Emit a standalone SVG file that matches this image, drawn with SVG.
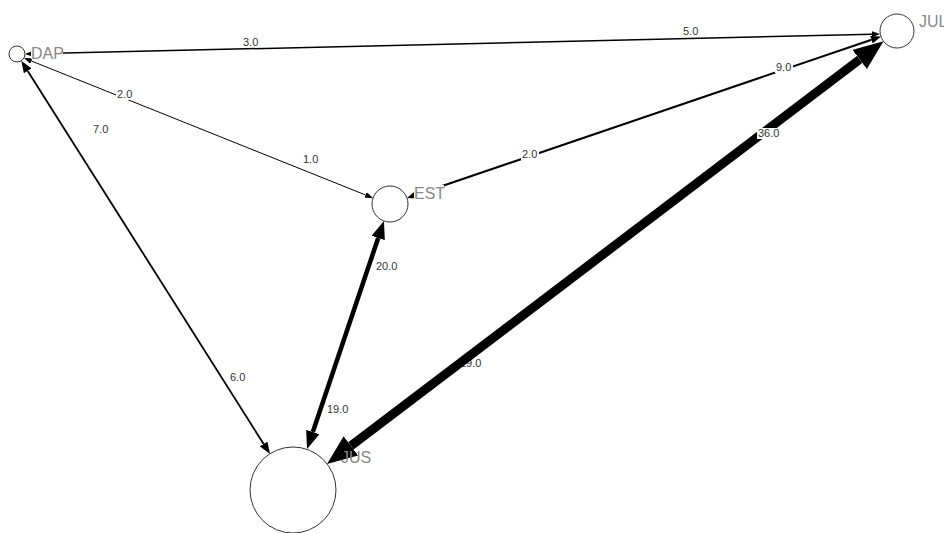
<svg xmlns="http://www.w3.org/2000/svg" width="944" height="533" viewBox="0 0 944 533">
<style>
.node circle{fill:#fff;stroke:#333;stroke-width:1}
.nlabel{font-family:"Liberation Sans",Arial,sans-serif;font-size:16px;fill:#888}
.elabel{font-family:"Liberation Sans",Arial,sans-serif;font-size:11px;fill:#333}
.edge{stroke:#000;fill:none}
.bg{fill:#fff}
</style>
<defs>
<marker id="aS" markerUnits="userSpaceOnUse" viewBox="0 0 8 6" markerWidth="8" markerHeight="6" refX="0" refY="3" orient="auto-start-reverse"><path d="M0,0 L8,3 L0,6 z" fill="#000"/></marker>
<marker id="aM" markerUnits="userSpaceOnUse" viewBox="0 0 12 9" markerWidth="12" markerHeight="9" refX="0" refY="4.5" orient="auto-start-reverse"><path d="M0,0 L12,4.5 L0,9 z" fill="#000"/></marker>
<marker id="aM2" markerUnits="userSpaceOnUse" viewBox="0 0 10 8" markerWidth="10" markerHeight="8" refX="0" refY="4" orient="auto-start-reverse"><path d="M0,0 L10,4 L0,8 z" fill="#000"/></marker>
<marker id="aL" markerUnits="userSpaceOnUse" viewBox="0 0 18 14" markerWidth="18" markerHeight="14" refX="0" refY="7" orient="auto-start-reverse"><path d="M0,0 L18,7 L0,14 z" fill="#000"/></marker>
<marker id="aXL" markerUnits="userSpaceOnUse" viewBox="0 0 30 24" markerWidth="30" markerHeight="24" refX="0" refY="12" orient="auto-start-reverse"><path d="M0,0 L30,12 L0,24 z" fill="#000"/></marker>
</defs>
<g id="connectors">
<text class="elabel" x="460" y="367">29.0</text>
<line class="edge" x1="33" y1="53.8" x2="872" y2="34.2" stroke-width="1.5" marker-start="url(#aS)" marker-end="url(#aS)"/>
<line class="edge" x1="31.4" y1="61" x2="365.6" y2="195" stroke-width="1" marker-start="url(#aS)" marker-end="url(#aS)"/>
<line class="edge" x1="27.7" y1="70.9" x2="263.6" y2="443.9" stroke-width="1.8" marker-start="url(#aM)" marker-end="url(#aM)"/>
<line class="edge" x1="378.2" y1="238" x2="312.8" y2="432" stroke-width="4.5" marker-start="url(#aL)" marker-end="url(#aL)"/>
<line class="edge" x1="350.9" y1="445.9" x2="859.6" y2="59.5" stroke-width="9" marker-start="url(#aXL)" marker-end="url(#aXL)"/>
<line class="edge" x1="416.5" y1="194.8" x2="871.5" y2="39.7" stroke-width="2" marker-start="url(#aM2)" marker-end="url(#aM2)"/>
<text class="elabel" x="243" y="46">3.0</text>
<text class="elabel" x="683" y="35">5.0</text>
<rect class="bg" x="116" y="89" width="18" height="11"/>
<text class="elabel" x="117" y="98">2.0</text>
<text class="elabel" x="303" y="163">1.0</text>
<rect class="bg" x="521" y="149" width="18" height="11"/>
<text class="elabel" x="522" y="158">2.0</text>
<rect class="bg" x="775" y="62" width="18" height="11"/>
<text class="elabel" x="776" y="71">9.0</text>
<text class="elabel" x="93" y="133">7.0</text>
<text class="elabel" x="230" y="381">6.0</text>
<text class="elabel" x="376" y="270">20.0</text>
<text class="elabel" x="327" y="413">19.0</text>
<rect class="bg" x="757" y="128" width="24" height="11"/>
<text class="elabel" x="758" y="137">36.0</text>
</g>
<g id="node-DAP" class="node">
<circle cx="17" cy="54" r="8"/>
<rect class="bg" x="31" y="45" width="32" height="14"/>
<text class="nlabel" x="31" y="59">DAP</text>
</g>
<g id="node-JUL" class="node">
<circle cx="897" cy="31" r="17"/>
<text class="nlabel" x="919" y="27">JUL</text>
</g>
<g id="node-EST" class="node">
<circle cx="390" cy="204" r="18"/>
<rect class="bg" x="414" y="185" width="30" height="14"/>
<text class="nlabel" x="414" y="199">EST</text>
</g>
<g id="node-JUS" class="node">
<circle cx="293" cy="490" r="43"/>
<text class="nlabel" x="341" y="463">JUS</text>
</g>
</svg>
